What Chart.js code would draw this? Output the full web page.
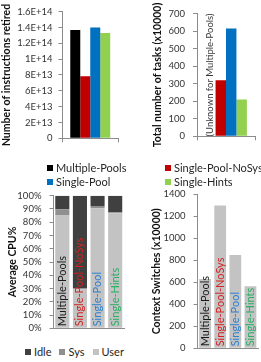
<!DOCTYPE html>
<html><head><meta charset="utf-8">
<script src="https://cdn.jsdelivr.net/npm/chart.js@4.4.0/dist/chart.umd.min.js"></script>
<style>
html,body{margin:0;padding:0;background:#fff;width:261px;height:362px;overflow:hidden;font-family:Lato,sans-serif}
canvas.c{position:absolute}
.leg{position:absolute;font-size:11px;color:#262626;line-height:14px;white-space:nowrap}
.leg .b{display:inline-block;width:6px;height:6px;margin-right:3px;vertical-align:middle;position:relative;top:-1px}
.leg .it{display:inline-block}
</style></head><body>
<canvas id="c1" class="c" style="left:0;top:0" width="130" height="150"></canvas>
<canvas id="c2" class="c" style="left:151px;top:0" width="110" height="150"></canvas>
<canvas id="c3" class="c" style="left:0;top:180px" width="130" height="162"></canvas>
<canvas id="c4" class="c" style="left:150px;top:180px" width="111" height="182"></canvas>
<div id="legL" class="leg" style="left:47px;top:161px"></div>
<div id="legR" class="leg" style="left:165px;top:161px"></div>
<div id="legB" class="leg" style="left:25px;top:345px"></div>
<script>
const categories = ['Multiple-Pools','Single-Pool-NoSys','Single-Pool','Single-Hints'];
const seriesColors = ['#000000','#c00000','#0070c0','#92d050'];
const labelColors = ['#1a1a1a','#d42222','#2f7fcf','#2aae66'];
const instructionsRetired = [1.37e14, 7.84e13, 1.40e14, 1.33e14];
const instrTickLabels = ['0','2E+13','4E+13','6E+13','8E+13','1E+14','1.2E+14','1.4E+14','1.6E+14'];
const totalTasks = [null, 320, 615, 210];
const tasksTickLabels = ['0','100','200','300','400','500','600','700'];
const cpuSeries = ['User','Sys','Idle'];
const cpuColors = ['#c3c3c3','#8f8f8f','#404040'];
const cpuUser = [85.1, 29.5, 90.5, 86.8];
const cpuSys = [4.7, 0.5, 1.7, 0.7];
const cpuIdle = [10.2, 70.0, 7.8, 12.5];
const cpuTickLabels = ['0%','10%','20%','30%','40%','50%','60%','70%','80%','90%','100%'];
const contextSwitches = [630, 1298, 848, 564];
const csTickLabels = ['0','200','400','600','800','1000','1200','1400'];

Chart.defaults.font.family = 'Lato';
Chart.defaults.color = '#333';

function yScale(max, step, labels, title, width, pad, stacked){
  return {
    min:0, max:max, stacked:!!stacked,
    ticks:{stepSize:step, autoSkip:false, padding:pad, color:'#333', font:{size:9.5},
      callback:(v)=>labels[Math.round(v/step)]},
    grid:{drawOnChartArea:false, tickLength:4, color:'#8c8c8c'},
    border:{color:'#8c8c8c'},
    title:{display:true, text:title, color:'#111', font:{size:10.5, weight:'bold'}, padding:{top:0,bottom:0}},
    afterFit(s){ s.width = width; }
  };
}
function xScale(h, ticksMarks, stacked){
  return {
    stacked:!!stacked,
    ticks:{display:false},
    grid:{display:ticksMarks, drawOnChartArea:false, tickLength:4, color:'#8c8c8c', offset:true},
    border:{display:true, color:'#8c8c8c'},
    afterFit(s){ s.height = h; }
  };
}
const common = {responsive:false, animation:false, devicePixelRatio:1, events:[],
  plugins:{legend:{display:false}, tooltip:{enabled:false}}};

// Chart 1
new Chart(document.getElementById('c1'), {
  type:'bar',
  data:{labels:[''], datasets:categories.map((c,i)=>({label:c, data:[instructionsRetired[i]], backgroundColor:seriesColors[i]}))},
  options:Object.assign({}, common, {
    layout:{padding:{left:0,right:12,top:10.5,bottom:3}},
    datasets:{bar:{categoryPercentage:0.72, barPercentage:1}},
    scales:{x:xScale(6,true), y:yScale(1.6e14, 2e13, instrTickLabels, 'Number of instructions retired', 62.5, 6)}
  })
});

// Chart 2
const unknownPlugin = {id:'unknown', afterDatasetsDraw(chart){
  const meta = chart.getDatasetMeta(0);
  const ca = chart.chartArea;
  let x = meta.data[0] ? meta.data[0].x : ca.left + 14;
  const ctx = chart.ctx;
  ctx.save();
  ctx.translate(x, (ca.top+ca.bottom)/2);
  ctx.rotate(-Math.PI/2);
  ctx.font = '9.5px Lato';
  ctx.fillStyle = '#3a3a3a';
  ctx.textAlign = 'center'; ctx.textBaseline = 'middle';
  ctx.fillText('(Unknown for ' + categories[0] + ')', 0, 0);
  ctx.restore();
}};
new Chart(document.getElementById('c2'), {
  type:'bar',
  data:{labels:[''], datasets:categories.map((c,i)=>({label:c, data:[totalTasks[i]], backgroundColor:seriesColors[i]}))},
  options:Object.assign({}, common, {
    layout:{padding:{left:0,right:6,top:10,bottom:4}},
    datasets:{bar:{categoryPercentage:0.72, barPercentage:1}},
    scales:{x:xScale(6,true), y:yScale(700, 100, tasksTickLabels, 'Total number of tasks (x10000)', 46, 8)}
  }),
  plugins:[unknownPlugin]
});

function barLabels(){ return {id:'barLabels', afterDatasetsDraw(chart){
  const ctx = chart.ctx, xs = chart.scales.x, bottom = chart.chartArea.bottom;
  ctx.save();
  ctx.font = '11px Lato'; ctx.textAlign = 'left'; ctx.textBaseline = 'middle';
  chart.data.labels.forEach((lab,i)=>{
    const px = xs.getPixelForValue(i);
    ctx.save(); ctx.translate(px, bottom - 2); ctx.rotate(-Math.PI/2);
    ctx.fillStyle = labelColors[i]; ctx.fillText(lab, 0, 0); ctx.restore();
  });
  ctx.restore();
}}; }

// Chart 3
const cpuData = [cpuUser, cpuSys, cpuIdle];
new Chart(document.getElementById('c3'), {
  type:'bar',
  data:{labels:categories, datasets:cpuSeries.map((s,i)=>({label:s, data:cpuData[i], backgroundColor:cpuColors[i]}))},
  options:Object.assign({}, common, {
    layout:{padding:{left:6,right:6,top:15.7,bottom:0.3}},
    datasets:{bar:{categoryPercentage:1, barPercentage:0.8}},
    scales:{x:xScale(5,false,true), y:yScale(100, 10, cpuTickLabels, 'Average CPU%', 47.5, 8, true)}
  }),
  plugins:[barLabels()]
});

// Chart 4
new Chart(document.getElementById('c4'), {
  type:'bar',
  data:{labels:categories, datasets:[{label:'Context Switches', data:contextSwitches, backgroundColor:'#c3c3c3'}]},
  options:Object.assign({}, common, {
    layout:{padding:{left:0,right:3,top:14.3,bottom:6.3}},
    datasets:{bar:{categoryPercentage:1, barPercentage:0.78}},
    scales:{x:xScale(5,false), y:yScale(1400, 200, csTickLabels, 'Context Switches (x10000)', 47.5, 8)}
  }),
  plugins:[barLabels()]
});

// Legends
function legendHTML(names, colors, block){
  return names.map((n,i)=>'<span class="it"'+(block?' style="display:block"':' style="margin-right:8px"')+'><span class="b" style="background:'+colors[i]+'"></span>'+n+'</span>').join('');
}
document.getElementById('legL').innerHTML = legendHTML([categories[0], categories[2]], [seriesColors[0], seriesColors[2]], true);
document.getElementById('legR').innerHTML = legendHTML([categories[1], categories[3]], [seriesColors[1], seriesColors[3]], true);
document.getElementById('legB').innerHTML = legendHTML(['Idle','Sys','User'], [cpuColors[2], cpuColors[1], cpuColors[0]], false);
</script>
</body></html>
